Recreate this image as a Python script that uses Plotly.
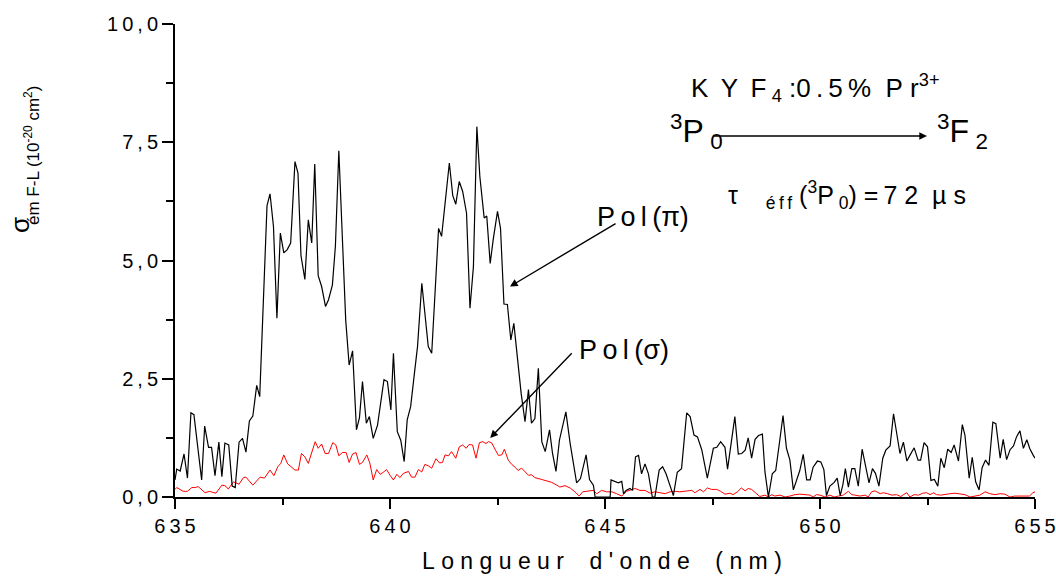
import plotly.graph_objects as go

# Emission cross-section spectra, KYF4:0.5% Pr3+, 3P0 -> 3F2 transition
pi_wavelength = [
    635.00, 635.04, 635.12, 635.21, 635.29, 635.37, 635.44, 635.62, 635.69, 635.78,
    635.85, 635.93, 636.02, 636.09, 636.16, 636.25, 636.33, 636.40, 636.49, 636.57,
    636.65, 636.73, 636.81, 636.90, 636.97, 637.05, 637.14, 637.21, 637.29, 637.37,
    637.45, 637.53, 637.61, 637.69, 637.79, 637.86, 637.93, 638.02, 638.10, 638.18,
    638.25, 638.33, 638.41, 638.50, 638.57, 638.66, 638.73, 638.81, 638.88, 638.97,
    639.05, 639.13, 639.22, 639.29, 639.36, 639.45, 639.52, 639.61, 639.71, 639.78,
    639.86, 639.94, 640.02, 640.08, 640.17, 640.25, 640.33, 640.40, 640.48, 640.56,
    640.64, 640.74, 640.81, 640.89, 640.97, 641.05, 641.13, 641.20, 641.29, 641.38,
    641.46, 641.53, 641.61, 641.69, 641.78, 641.86, 641.94, 642.02, 642.09, 642.19,
    642.25, 642.33, 642.40, 642.50, 642.57, 642.65, 642.73, 642.81, 642.88, 642.96,
    643.05, 643.14, 643.22, 643.29, 643.37, 643.45, 643.53, 643.61, 643.71, 643.78,
    643.86, 643.94, 644.02, 644.09, 644.19, 644.26, 644.34, 644.43, 644.56, 644.64,
    644.73, 644.77, 644.86, 644.95, 645.04, 645.12, 645.14, 645.23, 645.31, 645.39,
    645.43, 645.49, 645.58, 645.64, 645.71, 645.78, 645.85, 645.93, 646.01, 646.10,
    646.16, 646.26, 646.34, 646.42, 646.51, 646.59, 646.68, 646.78, 646.90, 646.98,
    647.07, 647.15, 647.25, 647.31, 647.38, 647.52, 647.60, 647.69, 647.79, 647.85,
    647.93, 648.02, 648.10, 648.18, 648.26, 648.33, 648.41, 648.49, 648.57, 648.66,
    648.72, 648.80, 648.89, 648.97, 649.05, 649.14, 649.22, 649.30, 649.38, 649.46,
    649.53, 649.61, 649.69, 649.77, 649.84, 649.94, 650.02, 650.09, 650.15, 650.23,
    650.33, 650.40, 650.47, 650.53, 650.59, 650.66, 650.74, 650.81, 650.89, 650.98,
    651.06, 651.14, 651.22, 651.29, 651.37, 651.46, 651.53, 651.63, 651.71, 651.78,
    651.86, 651.94, 652.02, 652.09, 652.19, 652.28, 652.34, 652.42, 652.50, 652.58,
    652.66, 652.74, 652.81, 652.89, 652.97, 653.05, 653.12, 653.22, 653.31, 653.37,
    653.47, 653.54, 653.62, 653.70, 653.77, 653.85, 653.93, 654.02, 654.09, 654.19,
    654.26, 654.34, 654.42, 654.50, 654.57, 654.65, 654.73, 654.81, 654.88, 654.96,
    655.00,
]
pi_sigma = [
    0.36, 0.59, 0.55, 0.91, 0.40, 1.78, 1.74, 0.36, 1.50, 1.05,
    1.05, 0.45, 1.16, 0.43, 1.14, 1.10, 0.23, 0.20, 1.16, 1.24,
    0.95, 1.61, 1.71, 2.36, 2.12, 3.92, 6.16, 6.41, 5.72, 3.78,
    5.58, 5.16, 5.23, 5.37, 7.09, 6.85, 5.10, 4.60, 5.86, 5.37,
    7.04, 4.68, 4.45, 4.03, 4.17, 4.48, 5.30, 7.32, 5.72, 3.74,
    2.79, 3.09, 1.42, 1.68, 2.44, 1.56, 1.70, 1.24, 1.52, 1.98,
    2.48, 2.44, 1.84, 3.04, 1.38, 1.20, 0.75, 1.63, 1.91, 2.55,
    3.18, 4.52, 3.96, 3.18, 3.04, 4.40, 5.68, 5.51, 6.28, 7.06,
    6.37, 6.19, 6.67, 6.46, 6.00, 3.99, 4.87, 7.83, 6.77, 5.90,
    5.94, 4.94, 5.44, 6.04, 5.68, 4.08, 4.07, 3.32, 3.67, 2.97,
    2.19, 1.59, 2.27, 1.56, 1.66, 2.72, 1.17, 0.96, 1.42, 0.92,
    0.54, 1.20, 1.56, 1.80, 1.13, 0.78, 0.30, 0.39, 0.89, 0.37,
    0.25, 0.00, 0.00, 0.00, 0.00, 0.00, 0.36, 0.33, 0.30, 0.33,
    0.07, 0.14, 0.18, 0.14, 0.85, 0.88, 0.49, 0.70, 0.49, 0.00,
    0.00, 0.57, 0.64, 0.49, 0.25, 0.03, 0.52, 0.60, 1.78, 1.70,
    1.31, 1.27, 1.00, 0.74, 0.40, 1.03, 1.05, 1.17, 1.05, 0.59,
    1.10, 1.70, 0.91, 0.92, 0.99, 1.25, 0.82, 1.22, 1.30, 1.33,
    0.53, 0.00, 0.49, 0.56, 1.10, 1.72, 1.03, 0.78, 0.15, 0.36,
    0.56, 0.90, 0.36, 0.36, 0.63, 0.76, 0.74, 0.58, 0.03, 0.23,
    0.31, 0.40, 0.03, 0.25, 0.60, 0.21, 0.60, 0.60, 0.23, 1.01,
    0.65, 0.30, 0.60, 0.50, 0.23, 0.82, 0.99, 1.08, 1.76, 1.33,
    0.92, 1.16, 0.76, 0.88, 1.04, 0.78, 0.78, 1.15, 1.06, 0.35,
    0.37, 0.23, 0.82, 0.62, 1.01, 0.94, 1.10, 0.76, 1.53, 1.31,
    0.40, 0.84, 0.32, 0.15, 0.62, 0.78, 0.67, 1.58, 1.55, 0.82,
    1.22, 0.79, 1.00, 1.08, 1.27, 1.40, 1.03, 1.21, 1.02, 0.88,
    0.82,
]

sigma_wavelength = [
    635.00, 635.04, 635.19, 635.29, 635.39, 635.47, 635.54, 635.70, 635.80, 635.95,
    636.09, 636.16, 636.24, 636.36, 636.49, 636.59, 636.65, 636.81, 636.98, 637.08,
    637.21, 637.30, 637.39, 637.46, 637.53, 637.62, 637.70, 637.79, 637.87, 637.94,
    638.02, 638.10, 638.26, 638.33, 638.41, 638.49, 638.57, 638.67, 638.74, 638.81,
    638.89, 638.98, 639.05, 639.13, 639.21, 639.29, 639.36, 639.46, 639.53, 639.61,
    639.69, 639.77, 639.84, 639.92, 640.00, 640.08, 640.16, 640.23, 640.31, 640.43,
    640.50, 640.58, 640.66, 640.74, 640.81, 640.89, 640.97, 641.07, 641.15, 641.22,
    641.28, 641.36, 641.43, 641.53, 641.61, 641.69, 641.77, 641.84, 641.92, 642.00,
    642.08, 642.16, 642.23, 642.29, 642.36, 642.44, 642.52, 642.60, 642.66, 642.75,
    642.83, 642.91, 642.98, 643.06, 643.14, 643.22, 643.29, 643.37, 643.53, 643.64,
    643.76, 643.88, 643.95, 644.07, 644.19, 644.30, 644.40, 644.48, 644.61, 644.73,
    644.81, 644.92, 645.04, 645.16, 645.27, 645.39, 645.50, 645.62, 645.70, 645.81,
    645.93, 646.05, 646.16, 646.28, 646.40, 646.51, 646.63, 646.74, 646.90, 647.02,
    647.09, 647.21, 647.29, 647.38, 647.48, 647.60, 647.69, 647.79, 647.91, 647.98,
    648.08, 648.17, 648.26, 648.33, 648.41, 648.51, 648.60, 648.72, 648.80, 648.88,
    648.95, 649.07, 649.19, 649.30, 649.42, 649.53, 649.65, 649.77, 649.84, 649.92,
    650.00, 650.12, 650.23, 650.33, 650.43, 650.54, 650.66, 650.74, 650.81, 650.93,
    651.05, 651.12, 651.20, 651.28, 651.40, 651.47, 651.57, 651.67, 651.78, 651.88,
    651.94, 652.02, 652.09, 652.19, 652.29, 652.39, 652.48, 652.56, 652.64, 652.71,
    652.81, 652.91, 653.02, 653.14, 653.26, 653.37, 653.49, 653.60, 653.72, 653.84,
    653.95, 654.07, 654.19, 654.30, 654.42, 654.53, 654.65, 654.77, 654.87, 654.95,
    655.00,
]
sigma_sigma = [
    0.16, 0.20, 0.12, 0.12, 0.20, 0.20, 0.22, 0.09, 0.12, 0.08,
    0.25, 0.24, 0.17, 0.32, 0.27, 0.41, 0.42, 0.25, 0.42, 0.40,
    0.57, 0.45, 0.64, 0.71, 0.89, 0.70, 0.64, 0.57, 0.57, 0.92,
    0.85, 0.71, 1.17, 1.03, 1.12, 0.92, 0.92, 1.15, 1.10, 0.87,
    0.94, 0.94, 0.73, 0.91, 0.94, 0.69, 0.73, 0.89, 0.72, 0.36,
    0.58, 0.48, 0.52, 0.58, 0.46, 0.36, 0.48, 0.41, 0.50, 0.54,
    0.42, 0.42, 0.58, 0.53, 0.69, 0.66, 0.61, 0.81, 0.72, 0.73,
    0.89, 0.87, 0.96, 0.82, 1.06, 1.10, 1.03, 1.11, 1.10, 0.82,
    1.15, 1.17, 1.13, 1.17, 1.15, 1.01, 0.88, 0.89, 1.01, 0.78,
    0.69, 0.63, 0.56, 0.61, 0.54, 0.46, 0.47, 0.41, 0.37, 0.34,
    0.31, 0.25, 0.21, 0.24, 0.19, 0.11, 0.02, 0.11, 0.12, 0.14,
    0.07, 0.14, 0.11, 0.11, 0.07, 0.02, 0.12, 0.16, 0.18, 0.14,
    0.14, 0.08, 0.11, 0.09, 0.07, 0.11, 0.12, 0.11, 0.12, 0.14,
    0.09, 0.16, 0.11, 0.19, 0.16, 0.16, 0.12, 0.06, 0.08, 0.05,
    0.11, 0.19, 0.13, 0.18, 0.16, 0.09, 0.01, 0.04, 0.00, 0.05,
    0.02, 0.04, 0.00, 0.02, 0.05, 0.06, 0.05, 0.04, 0.00, 0.05,
    0.04, 0.00, 0.04, 0.00, 0.02, 0.04, 0.12, 0.05, 0.04, 0.02,
    0.04, 0.00, 0.11, 0.13, 0.07, 0.09, 0.07, 0.04, 0.05, 0.01,
    0.05, 0.09, 0.00, 0.05, 0.04, 0.08, 0.09, 0.05, 0.09, 0.05,
    0.04, 0.06, 0.07, 0.08, 0.07, 0.05, 0.00, 0.02, 0.04, 0.11,
    0.07, 0.05, 0.07, 0.06, 0.00, 0.02, 0.02, 0.01, 0.02, 0.09,
    0.11,
]

x_ticks = [635, 640, 645, 650, 655]
y_ticks = [0, 2.5, 5, 7.5, 10]
y_tick_text = ["0,0", "2,5", "5,0", "7,5", "10,0"]

FONT = "Liberation Sans, Arial, sans-serif"
NB = "\u00a0"
THIN = "\u2009"


def spread(text, gap):
    """Insert a gap between characters to mimic wide letter spacing."""
    return gap.join(ch if ch != " " else NB * 2 for ch in text)


# plot-area geometry, used to place free text in paper coordinates
L, T, W, H = 175, 24, 860, 473


def xp(px):
    return (px - L) / W


def yp(py):
    return (T + H - py) / H


fig = go.Figure()
fig.add_trace(go.Scatter(
    x=sigma_wavelength, y=sigma_sigma, mode="lines",
    line=dict(color="#ff0000", width=1), showlegend=False,
))
fig.add_trace(go.Scatter(
    x=pi_wavelength, y=pi_sigma, mode="lines",
    line=dict(color="black", width=1.2), showlegend=False,
))

fig.update_xaxes(
    range=[635, 655], tickvals=x_ticks,
    ticktext=[spread(str(v), THIN) for v in x_ticks],
    ticks="outside", ticklen=10, tickwidth=2, tickcolor="black",
    minor=dict(dtick=2.5, ticks="outside", ticklen=6, tickwidth=2, tickcolor="black"),
    showline=True, linewidth=2, linecolor="black", mirror=False,
    showgrid=False, zeroline=False, automargin=False,
    tickfont=dict(family=FONT, size=20, color="black"),
)
fig.update_yaxes(
    range=[0, 10], tickvals=y_ticks,
    ticktext=[spread(t, THIN) for t in y_tick_text],
    ticks="outside", ticklen=11, tickwidth=2, tickcolor="black",
    minor=dict(dtick=1.25, ticks="outside", ticklen=7, tickwidth=2, tickcolor="black"),
    showline=True, linewidth=2, linecolor="black", mirror=False,
    showgrid=False, zeroline=False, automargin=False,
    tickfont=dict(family=FONT, size=20, color="black"),
)

txt = dict(family=FONT, color="black")
annotations = [
    # axis titles
    dict(x=xp(602), y=yp(561), text=spread("Longueur d'onde (nm)", NB),
         font=dict(size=23, **txt)),
    dict(x=xp(20), y=yp(225), text="σ", textangle=-90, font=dict(size=26, **txt)),
    dict(x=xp(32), y=yp(156), text="ém F-L (10<sup>-20</sup> cm<sup>2</sup>)",
         textangle=-90, font=dict(size=17, **txt)),
    # composition and transition
    dict(x=xp(815), y=yp(88),
         text="K" + NB + THIN + "Y" + NB + THIN + "F" + THIN + "<sub>4</sub>" + NB + ":0" + THIN + "." + THIN + "5" + THIN + "%" + NB + NB + "P" + NB + "r<sup>3+</sup>",
         font=dict(size=26, **txt)),
    dict(x=xp(668), y=yp(131), xanchor="left",
         text="<sup>3</sup>P" + THIN + "<sub>0</sub>", font=dict(size=32, **txt)),
    dict(x=xp(935), y=yp(131), xanchor="left",
         text="<sup>3</sup>F" + THIN + "<sub>2</sub>", font=dict(size=32, **txt)),
    dict(x=xp(847), y=yp(195),
         text="τ" + NB * 4 + "<sub>é" + THIN + "f" + THIN + "f</sub>" + NB + "(<sup>3</sup>P" + THIN + "<sub>0</sub>)" + NB + "=" + THIN + "7" + NB + "2" + NB * 2 + "µ" + NB + "s",
         font=dict(size=25, **txt)),
    # polarisation labels
    dict(x=xp(643), y=yp(217), text="P" + THIN + "o" + THIN + "l" + THIN + "(π)", font=dict(size=27, **txt)),
    dict(x=xp(624), y=yp(350), text="P" + THIN + "o" + THIN + "l" + THIN + "(σ)", font=dict(size=27, **txt)),
]
for a in annotations:
    a.setdefault("xref", "paper")
    a.setdefault("yref", "paper")
    a.setdefault("xanchor", "center")
    a.setdefault("yanchor", "middle")
    a["showarrow"] = False

# arrows: transition arrow and leaders pointing at each spectrum
annotations += [
    dict(xref="paper", yref="paper", x=xp(927), y=yp(136), ax=-215, ay=0,
         text="", showarrow=True, arrowhead=2, arrowsize=1.1, arrowwidth=1.4,
         arrowcolor="black"),
    dict(xref="x", yref="y", x=642.79, y=4.45, axref="x", ayref="y",
         ax=645.28, ay=5.80, text="", showarrow=True, arrowhead=2,
         arrowsize=1.1, arrowwidth=1.4, arrowcolor="black"),
    dict(xref="x", yref="y", x=642.33, y=1.25, axref="x", ayref="y",
         ax=644.26, ay=3.07, text="", showarrow=True, arrowhead=2,
         arrowsize=1.1, arrowwidth=1.4, arrowcolor="black"),
]

fig.update_layout(
    width=1056, height=577,
    margin=dict(l=L, r=1056 - L - W, t=T, b=577 - T - H),
    paper_bgcolor="white", plot_bgcolor="white",
    annotations=annotations,
    font=dict(family=FONT, color="black"),
)

fig.write_html("out.html")
